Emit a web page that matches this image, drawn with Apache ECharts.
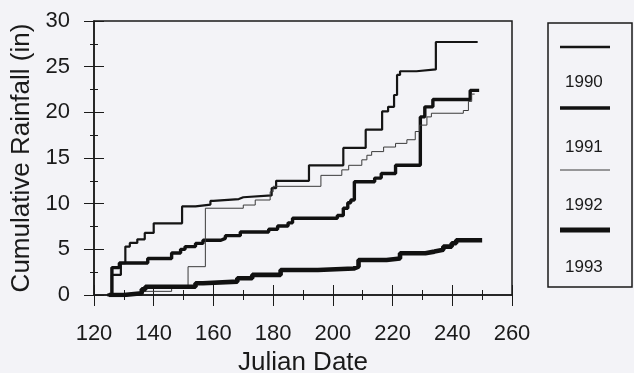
<!DOCTYPE html>
<html>
<head>
<meta charset="utf-8">
<script src="https://cdn.jsdelivr.net/npm/echarts@6/dist/echarts.min.js"></script>
<style>
html, body { margin: 0; padding: 0; background: #f3f3f7; }
#chart { width: 634px; height: 373px; }
</style>
</head>
<body>
<div id="chart"></div>
<script>
// cumulative rainfall, [julian day, inches] at each step
var years = ['1990', '1991', '1992', '1993'];
var rain1990 = [[124.5, 0], [126, 2.2], [129, 3.5], [130.5, 5.3], [132, 5.7], [134.5, 6.1], [137, 6.8], [140, 7.85],
    [149.5, 9.7], [154, 9.9], [159, 10.3], [160, 10.5], [168.5, 10.7], [170, 10.9], [179.5, 11.7], [181, 12.5],
    [192, 14.2], [203.5, 16.1], [211, 18.1], [216.5, 20.1], [218.5, 20.6], [220.5, 21.9], [221.5, 24.1],
    [222.5, 24.5], [228, 24.7], [234.5, 27.7], [248.5, 27.7]];
var rain1991 = [[124.5, 0], [126, 3.0], [128.5, 3.5], [138, 4.0], [146, 4.6], [149, 5.0], [150.5, 5.3], [154, 5.65],
    [156.5, 6.0], [162.5, 6.2], [164, 6.5], [169, 6.9], [178.5, 7.2], [181.5, 7.55], [185, 7.9], [186.5, 8.4],
    [201.5, 8.7], [203.5, 9.5], [205, 10.1], [206, 10.4], [207.2, 12.4], [214, 12.8], [216.2, 13.3], [221, 14.2],
    [229.3, 19.5], [230.8, 20.6], [233.5, 21.4], [246, 22.4], [249, 22.4]];
var rain1992 = [[126, 0], [136, 0.4], [146, 0.8], [151.5, 3.1], [157.3, 9.5], [170, 9.85], [174, 10.4], [179, 11.3],
    [180, 11.9], [196, 13.1], [203, 13.7], [205.3, 14.2], [209.7, 14.8], [211.4, 15.3], [213, 15.7], [217, 16.2],
    [221, 16.6], [224.8, 17.0], [227.6, 17.9], [229, 18.6], [231.5, 19.5], [233, 19.9], [243.7, 20.2],
    [245.4, 21.2], [246.5, 22.0], [247.5, 22.0]];
var rain1993 = [[125, 0], [130, 0.2], [136, 0.62], [137.2, 0.9], [154, 1.28], [156.5, 1.46], [168, 1.83], [173, 2.2],
    [182.5, 2.74], [195, 2.9], [207, 3.1], [208.6, 3.83], [218, 4.0], [222.5, 4.57], [231, 4.75], [234, 4.95],
    [237, 5.3], [239.8, 5.66], [241.3, 6.0], [250, 6.0]];
var allData = [rain1990, rain1991, rain1992, rain1993];
var widths = [2.2, 3.4, 1, 4.6];
var colors = ['#151515', '#111111', '#3a3a3a', '#111111'];

var font = 'Liberation Sans, Arial, sans-serif';
var ink = '#1a1a1a';

var chart = echarts.init(document.getElementById('chart'));

var series = [];
for (var i in allData) {
    series.push({
        name: years[i],
        type: 'line',
        step: 'end',
        data: allData[i],
        showSymbol: false,
        silent: true,
        lineStyle: { color: colors[i], width: widths[i] }
    });
}

// legend box: sample line above each year
var legendItems = [{
    type: 'rect',
    shape: { x: 548, y: 23, width: 84, height: 264 },
    style: { fill: 'transparent', stroke: ink, lineWidth: 1.5 }
}];
var lineY = [47, 108, 170, 230];
var textY = [82, 147, 205, 267];
var legendWidths = [2.4, 3.6, 1, 5];
for (var k in years) {
    legendItems.push({
        type: 'line',
        shape: { x1: 560, y1: lineY[k], x2: 610, y2: lineY[k] },
        style: { stroke: colors[k], lineWidth: legendWidths[k] }
    });
    legendItems.push({
        type: 'text',
        x: 565, y: textY[k],
        style: { text: years[k], font: '17px ' + font, fill: ink, textVerticalAlign: 'middle' }
    });
}

var tickAxisX = {
    type: 'value', min: 120, max: 260, interval: 20
};
var tickAxisY = {
    type: 'value', min: 0, max: 30, interval: 5
};

chart.setOption({
    backgroundColor: '#f3f3f7',
    animation: false,
    grid: {
        left: 94, right: 122, top: 21, bottom: 78,
        show: true, borderColor: ink, borderWidth: 1.5,
        outerBoundsMode: 'none'
    },
    xAxis: [{
        type: 'value', min: 120, max: 260, interval: 20,
        position: 'bottom',
        name: 'Julian Date',
        nameLocation: 'middle',
        nameGap: 52,
        nameTextStyle: { fontSize: 26, color: ink, fontFamily: font },
        axisLine: { show: true, lineStyle: { color: ink, width: 1.5 } },
        axisTick: { show: true, length: 11, lineStyle: { color: ink, width: 1 } },
        minorTick: { show: true, splitNumber: 2, length: 5, lineStyle: { color: ink, width: 1 } },
        axisLabel: { fontSize: 22, color: ink, fontFamily: font, margin: 28 },
        splitLine: { show: false }
    }, {
        type: 'value', min: 120, max: 260, interval: 20,
        position: 'top',
        offset: -274,
        axisLine: { show: false },
        axisTick: { show: true, length: 10, lineStyle: { color: ink, width: 1 } },
        minorTick: { show: true, splitNumber: 2, length: 5, lineStyle: { color: ink, width: 1 } },
        axisLabel: { show: false },
        splitLine: { show: false }
    }],
    yAxis: [{
        type: 'value', min: 0, max: 30, interval: 5,
        position: 'left',
        name: 'Cumulative Rainfall (in)',
        nameLocation: 'middle',
        nameGap: 56,
        nameTextStyle: { fontSize: 26, color: ink, fontFamily: font },
        axisLine: { show: true, lineStyle: { color: ink, width: 1.5 } },
        axisTick: { show: true, length: 10, lineStyle: { color: ink, width: 1 } },
        minorTick: { show: true, splitNumber: 2, length: 4, lineStyle: { color: ink, width: 1 } },
        axisLabel: { fontSize: 22, color: ink, fontFamily: font, margin: 24 },
        splitLine: { show: false }
    }, {
        type: 'value', min: 0, max: 30, interval: 5,
        position: 'right',
        offset: -418,
        axisLine: { show: false },
        axisTick: { show: true, length: 10, lineStyle: { color: ink, width: 1 } },
        minorTick: { show: true, splitNumber: 2, length: 4, lineStyle: { color: ink, width: 1 } },
        axisLabel: { show: false },
        splitLine: { show: false }
    }],
    series: series,
    graphic: legendItems
});
</script>
</body>
</html>
